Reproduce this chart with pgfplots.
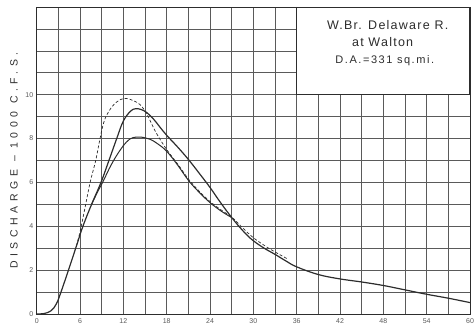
\documentclass[border=0pt]{standalone}
\usepackage{fontspec}
\setmainfont{Liberation Sans}
\usepackage{pgfplots}
\pgfplotsset{compat=1.18}
\definecolor{ink}{RGB}{45,45,45}
\definecolor{gridc}{RGB}{90,90,90}
\begin{document}
\begin{tikzpicture}
\begin{axis}[
    scale only axis,
    width=433.3pt, height=307pt,
    xmin=0, xmax=60, ymin=0, ymax=14,
    xtick={0,6,...,60}, minor xtick={3,9,...,57},
    ytick={0,2,...,10}, minor ytick={1,3,5,7,9,11,12,13},
    grid=both,
    major grid style={gridc, line width=0.6pt},
    minor grid style={gridc, line width=0.6pt},
    major tick length=0pt, minor tick length=0pt,
    axis line style={ink, line width=0.8pt},
    /pgf/number format/assume math mode=true,
    tick label style={font=\fontsize{7}{8}\selectfont, text=gridc},
    xticklabel style={yshift=-1.5pt},
    ylabel={DISCHARGE -- 1000 C.F.S.},
    ylabel style={at={([xshift=-22.7pt]rel axis cs:0,0.5)}, anchor=center,
        font=\fontsize{10.5}{11}\addfontfeature{LetterSpace=44}\selectfont, text=ink},
]
\coordinate (ll) at (rel axis cs:0,0);
\coordinate (ur) at (rel axis cs:1,1);

% main hydrograph
\addplot[ink, line width=1.2pt, smooth, tension=0.65] coordinates {
(0,0)(1,0.02)(2,0.15)(2.7,0.45)(3.2,0.85)(4.4,2.0)(5.5,3.1)(6.4,4.0)(7.6,5.0)
(8.9,6.0)(10,7.0)(11.08,8.0)(12,8.8)(13,9.25)(13.7,9.36)(14.5,9.32)
(15.3,9.17)(16.2,8.88)(17,8.55)(18,8.15)(19.5,7.62)(21,7.05)(22.5,6.42)
(24,5.77)(25.2,5.2)(26.3,4.7)(27,4.4)(28,4.0)(29,3.64)(30,3.34)(31.5,3.0)
(33,2.72)(34.5,2.42)(36,2.15)(39,1.8)(42,1.6)(45,1.46)(48,1.3)(51,1.1)(54,0.9)
(57,0.72)(60,0.52)
};
% lower peak
\addplot[ink, line width=1.0pt, smooth, tension=0.65] coordinates {
(7.6,5.0)(8.4,5.55)(9.2,6.05)(10,6.6)(10.65,7.0)(11.4,7.4)(12,7.68)(12.9,7.98)
(13.85,8.07)(14.8,8.05)(15.7,7.97)(16.8,7.75)(18,7.42)(19.5,6.8)(21,6.1)
(22.5,5.55)(24,5.08)(25.6,4.68)(27,4.4)
};
% dashed, highest peak
\addplot[ink, line width=0.7pt, dash pattern=on 3pt off 2pt, smooth, tension=0.65] coordinates {
(5.5,3.1)(6,3.75)(6.6,4.7)(7.4,6.0)(8.17,7.0)(8.77,8.0)(9.3,8.75)(10,9.25)
(11,9.65)(12,9.82)(13,9.78)(14.3,9.55)(15.2,9.15)(15.8,8.75)(16.6,8.23)(18,7.5)
(19.5,6.85)(21,6.16)(22.5,5.6)(24,5.13)(25.6,4.73)(27,4.42)(28.6,3.9)(30,3.48)
(31.5,3.13)(33,2.83)(34.8,2.5)
};

% title box
\fill[white] (axis cs:36,10) rectangle (axis cs:60,14);
\draw[ink, line width=1.1pt] (axis cs:36,14) -- (axis cs:36,10) -- (axis cs:60,10) -- (axis cs:60,14);
\draw[ink, line width=0.6pt] (axis cs:36,14) -- (axis cs:60,14);
\begin{scope}[every node/.style={font=\fontsize{12.5}{14}\addfontfeature{LetterSpace=10}\selectfont, text=ink}]
\node at (axis cs:48.6,13.2) {W.Br. Delaware R.};
\node at (axis cs:47.9,12.4) {at Walton};
\node at (axis cs:48.2,11.55) {\fontsize{11}{12}\addfontfeature{LetterSpace=14}\selectfont D.A.=331 sq.mi.};
\end{scope}
\end{axis}
\pgfresetboundingbox
\path[use as bounding box] ([shift={(-36.7pt,-12pt)}]ll) rectangle ([shift={(4pt,7pt)}]ur);
\end{tikzpicture}
\end{document}
